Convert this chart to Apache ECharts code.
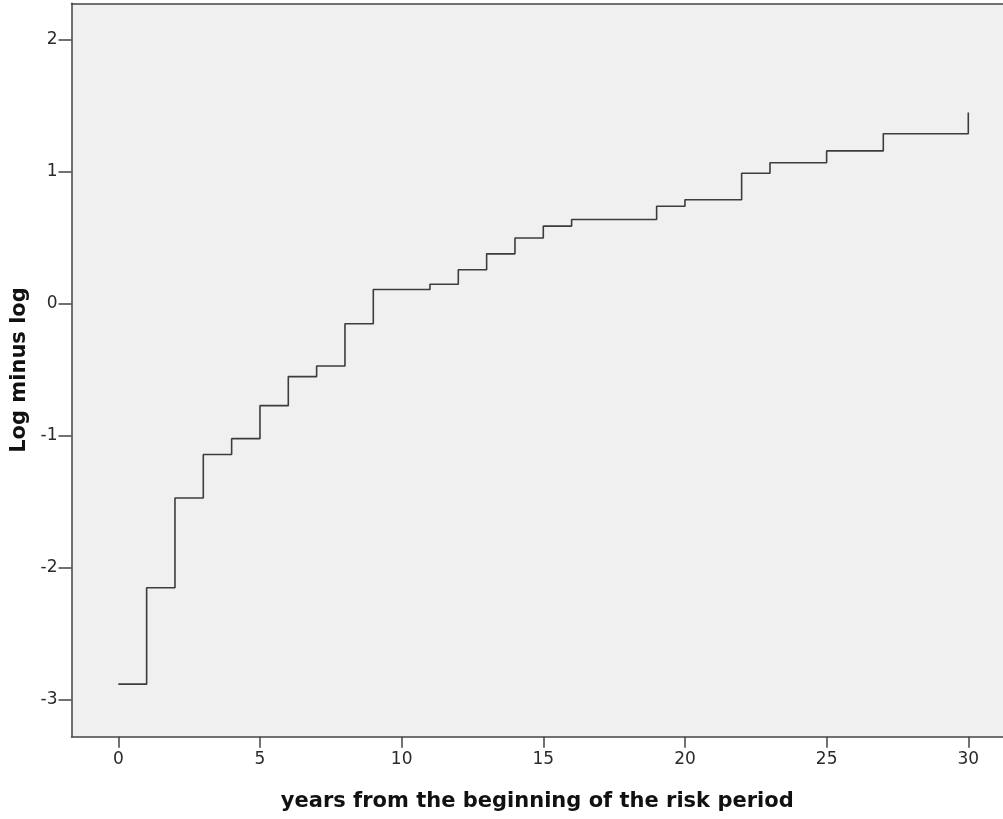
<!DOCTYPE html>
<html>
<head>
<meta charset="utf-8">
<script src="https://cdn.jsdelivr.net/npm/echarts@6/dist/echarts.min.js"></script>
<style>
  html, body { margin: 0; padding: 0; background: #fff; }
  #chart { width: 1003px; height: 819px; }
</style>
</head>
<body>
<div id="chart"></div>
<script>
// step points: time (years) and log minus log value
var years = [0, 1, 2, 3, 4, 5, 6, 7, 8, 9, 11, 12, 13, 14, 15, 16, 19, 20, 22, 23, 25, 27, 30];
var logMinusLog = [-2.88, -2.15, -1.47, -1.14, -1.02, -0.77, -0.55, -0.47, -0.15, 0.11, 0.15, 0.26,
                   0.38, 0.50, 0.59, 0.64, 0.74, 0.79, 0.99, 1.07, 1.16, 1.29, 1.45];
var xTicks = [0, 5, 10, 15, 20, 25, 30];
var yTicks = [-3, -2, -1, 0, 1, 2];

var points = [];
for (var i = 0; i < years.length; i++) {
    points.push([years[i], logMinusLog[i]]);
}

var chart = echarts.init(document.getElementById('chart'));

var axisLineStyle = { color: '#444', width: 1.5 };
var labelFont = { color: '#2a2a2a', fontSize: 17, fontFamily: 'DejaVu Sans' };

chart.setOption({
    animation: false,
    grid: {
        left: 71.5,
        right: 0,
        top: 3.3,
        bottom: 82.3,
        show: true,
        backgroundColor: '#f0f0f0',
        borderWidth: 0
    },
    xAxis: [{
        type: 'value',
        min: -1.652,
        max: 31.225,
        name: 'years from the beginning of the risk period',
        nameLocation: 'middle',
        nameGap: 54,
        nameTextStyle: { color: '#111', fontSize: 21, fontWeight: 'bold', fontFamily: 'DejaVu Sans' },
        axisLine: { show: true, onZero: false, lineStyle: axisLineStyle },
        axisTick: { show: true, length: 11, customValues: xTicks, lineStyle: axisLineStyle },
        axisLabel: Object.assign({ margin: 14, customValues: xTicks }, labelFont),
        splitLine: { show: false }
    }, {
        type: 'value',
        position: 'top',
        min: -1.652,
        max: 31.225,
        axisLine: { show: true, onZero: false, lineStyle: axisLineStyle },
        axisTick: { show: false },
        axisLabel: { show: false },
        splitLine: { show: false }
    }],
    yAxis: {
        type: 'value',
        min: -3.278,
        max: 2.278,
        name: 'Log minus log',
        nameLocation: 'middle',
        nameGap: 36,
        nameTextStyle: { color: '#111', fontSize: 21, fontWeight: 'bold', fontFamily: 'DejaVu Sans' },
        axisLine: { show: true, onZero: false, lineStyle: axisLineStyle },
        axisTick: { show: true, length: 13, customValues: yTicks, lineStyle: axisLineStyle },
        axisLabel: Object.assign({ margin: 14, customValues: yTicks }, labelFont),
        splitLine: { show: false }
    },
    series: [{
        type: 'line',
        step: 'end',
        data: points,
        showSymbol: false,
        symbol: 'none',
        lineStyle: { color: '#3c3c3c', width: 1.6 }
    }]
});
</script>
</body>
</html>
